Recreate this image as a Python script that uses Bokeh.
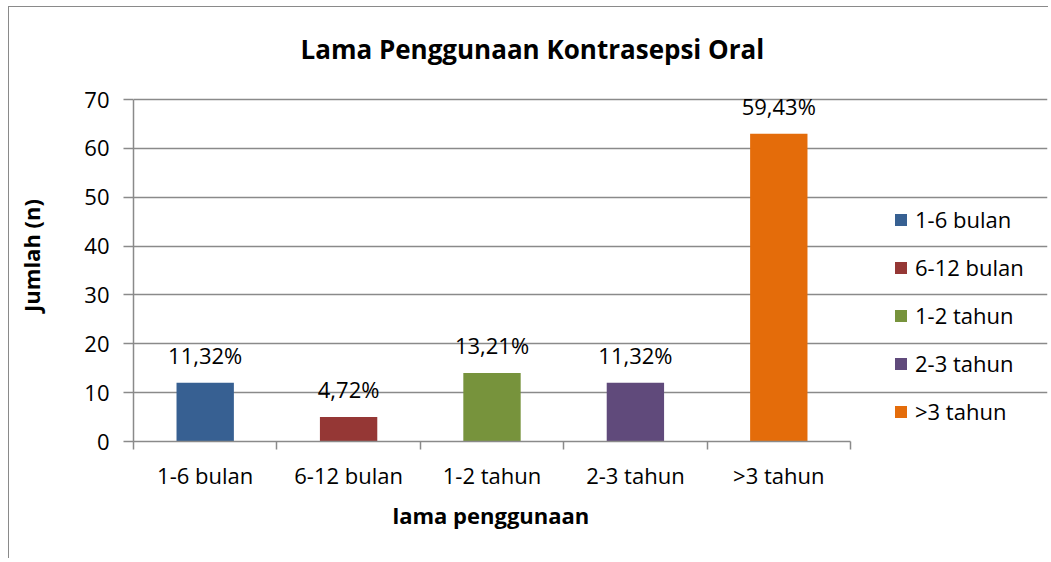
import numpy as np
from bokeh.plotting import figure
from bokeh.models import ColumnDataSource, LabelSet, FixedTicker, Range1d, Title
from bokeh.core.properties import value
from bokeh.embed import file_html
from bokeh.resources import INLINE

# ---- data ----
categories = ["1-6 bulan", "6-12 bulan", "1-2 tahun", "2-3 tahun", ">3 tahun"]
counts = [12, 5, 14, 12, 63]
pct_labels = ["11,32%", "4,72%", "13,21%", "11,32%", "59,43%"]
colors = ["#376092", "#953735", "#77933C", "#604A7B", "#E46C0A"]
y_ticks = [0, 10, 20, 30, 40, 50, 60, 70]

FONT = "Open Sans"
FS = "22px"
GRID = "#8a8a8a"

W, H = 1040, 552
TOP_PAD = 30                      # extra frame room above the 70 line (labels not clipped)
BL, BR, BT, BB = 124, 2, 92 - TOP_PAD, 118
AXIS_W, AXIS_H = 717, 342         # pixel size of the value/category axes
n = len(categories)
y_max = y_ticks[-1]
frame_w = W - BL - BR
x_end = n * frame_w / AXIS_W
y_end = y_max * (AXIS_H + TOP_PAD) / AXIS_H

pos = (np.arange(n) + 0.5).tolist()
source = ColumnDataSource(dict(x=pos, y=counts, cat=categories, color=colors, lab=pct_labels))

p = figure(width=W, height=H, output_backend="svg", toolbar_location=None,
           x_range=Range1d(0, x_end), y_range=Range1d(0, y_end),
           min_border_left=BL, min_border_right=BR, min_border_top=BT, min_border_bottom=BB)
p.styles = {"border-left": "1px solid #8a8a8a", "border-top": "1px solid #8a8a8a",
            "margin-left": "8px", "margin-top": "6px"}
p.outline_line_color = None
p.background_fill_color = "white"
p.border_fill_color = "white"

p.title.text = "Lama Penggunaan Kontrasepsi Oral"
p.title.align = "left"
p.title.offset = 167
p.title.text_font = FONT
p.title.text_font_size = "26px"
p.title.text_font_style = "bold"
p.title.text_color = "black"
p.title.standoff = 6

p.vbar(x="x", top="y", width=0.4, color="color", line_color=None,
       source=source, legend_field="cat")

labels = LabelSet(x="x", y="y", text="lab", source=source, text_align="center",
                  text_baseline="bottom", y_offset=13, text_font=value(FONT),
                  text_font_size=FS, text_color="black")
p.add_layout(labels)

# y axis
p.yaxis.bounds = (0, y_max)
p.yaxis.ticker = FixedTicker(ticks=y_ticks)
p.yaxis.minor_tick_line_color = None
p.yaxis.major_tick_in = 0
p.yaxis.major_tick_out = 10
p.yaxis.major_tick_line_color = GRID
p.yaxis.major_tick_line_width = 1.5
p.yaxis.axis_line_color = GRID
p.yaxis.axis_line_width = 1.5
p.yaxis.major_label_text_font = FONT
p.yaxis.major_label_text_font_size = FS
p.yaxis.major_label_text_color = "black"
p.yaxis.major_label_standoff = 14
p.yaxis.axis_label = "Jumlah (n)"
p.yaxis.axis_label_text_font = FONT
p.yaxis.axis_label_text_font_size = FS
p.yaxis.axis_label_text_font_style = "bold"
p.yaxis.axis_label_text_color = "black"
p.yaxis.axis_label_standoff = 35

# x axis
p.xaxis.bounds = (0, n)
p.xaxis.ticker = FixedTicker(ticks=pos, minor_ticks=list(range(n + 1)))
p.xaxis.major_label_overrides = {x: c for x, c in zip(pos, categories)}
p.xaxis.major_tick_line_color = None
p.xaxis.major_tick_in = 0
p.xaxis.major_tick_out = 0
p.xaxis.minor_tick_in = 0
p.xaxis.minor_tick_out = 8
p.xaxis.minor_tick_line_color = GRID
p.xaxis.minor_tick_line_width = 1.5
p.xaxis.axis_line_color = GRID
p.xaxis.axis_line_width = 1.5
p.xaxis.major_label_text_font = FONT
p.xaxis.major_label_text_font_size = FS
p.xaxis.major_label_text_color = "black"
p.xaxis.major_label_standoff = 10

# x-axis title, centred under the category axis (not the widened frame)
xtitle = Title(text="lama penggunaan", align="left", offset=259, text_font=FONT,
               text_font_size=FS, text_font_style="bold", text_color="black", standoff=10)
p.add_layout(xtitle, "below")

# grid
p.xgrid.grid_line_color = None
p.ygrid.ticker = FixedTicker(ticks=y_ticks)
p.ygrid.grid_line_color = GRID
p.ygrid.grid_line_width = 1.5
p.ygrid.bounds = (0, n)

# legend (inside the widened frame, right of the bars)
lg = p.legend[0]
lg.location = (760, 15)
lg.border_line_color = None
lg.background_fill_alpha = 0
lg.padding = 0
lg.margin = 0
lg.glyph_width = 15
lg.glyph_height = 15
lg.label_height = 30
lg.spacing = 18
lg.label_standoff = 7
lg.label_text_font = FONT
lg.label_text_font_size = FS
lg.label_text_color = "black"

open("out.html", "w").write(file_html(p, INLINE))
